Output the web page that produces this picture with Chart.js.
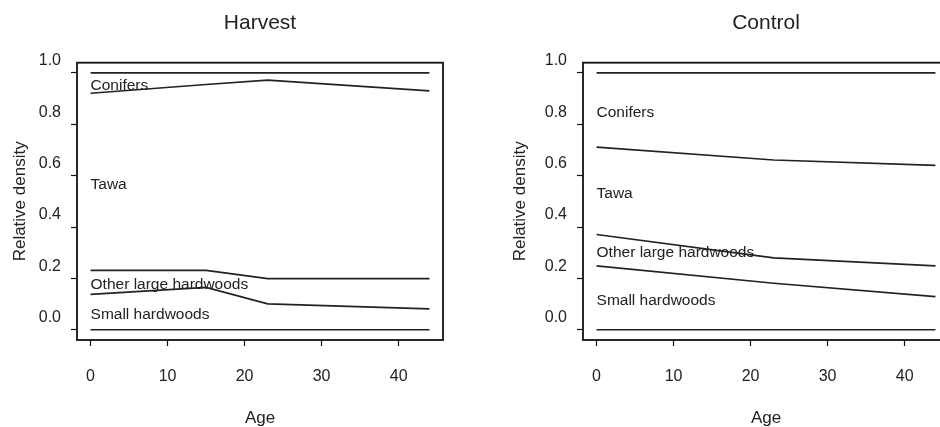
<!DOCTYPE html>
<html>
<head>
<meta charset="utf-8">
<title>Relative density by age</title>
<script src="https://cdn.jsdelivr.net/npm/chart.js@4/dist/chart.umd.min.js"></script>
<style>
  html, body { margin: 0; padding: 0; background: #fff; overflow: hidden; }
  #wrap { position: relative; width: 940px; height: 427px; overflow: hidden; }
  .panel { position: absolute; top: 0; width: 506px; height: 427px; }
</style>
</head>
<body>
<div id="wrap">
  <div class="panel" style="left:0"><canvas id="harvest" width="506" height="427"></canvas></div>
  <div class="panel" style="left:506px"><canvas id="control" width="506" height="427"></canvas></div>
</div>
<script>
// species groups, bottom of the stack first
const groups = ['Small hardwoods', 'Other large hardwoods', 'Tawa', 'Conifers'];

const harvestAges = [0, 15, 23, 44];
const harvestSmall = [0.138, 0.165, 0.101, 0.081];
const harvestOther = [0.093, 0.066, 0.098, 0.118];
const harvestTawa = [0.690, 0.724, 0.773, 0.731];
const harvestConifers = [0.079, 0.045, 0.028, 0.070];

const controlAges = [0, 23, 44];
const controlSmall = [0.249, 0.181, 0.129];
const controlOther = [0.122, 0.099, 0.120];
const controlTawa = [0.340, 0.381, 0.391];
const controlConifers = [0.289, 0.339, 0.360];

const xTicks = [0, 10, 20, 30, 40];
const yTicks = [0, 0.2, 0.4, 0.6, 0.8, 1.0];

const FONT = '"Liberation Sans", Arial, Helvetica, sans-serif';
const INK = '#222';

// running sums: 0, small, small+other, ... , total
function boundaries(series) {
    const out = [series[0].map(() => 0)];
    series.forEach(s => {
        const prev = out[out.length - 1];
        out.push(s.map((v, i) => prev[i] + v));
    });
    return out;
}

function framePlugin(ages, bounds) {
    return {
        id: 'frameAndLabels',
        afterDatasetsDraw(chart) {
            const { ctx, chartArea, scales: { x, y } } = chart;
            ctx.save();
            ctx.strokeStyle = '#111';
            ctx.lineWidth = 1.8;
            ctx.strokeRect(chartArea.left, chartArea.top, chartArea.right - chartArea.left, chartArea.bottom - chartArea.top);

            ctx.font = '15.5px ' + FONT;
            ctx.fillStyle = INK;
            ctx.textAlign = 'left';
            ctx.textBaseline = 'middle';
            groups.forEach((name, i) => {
                const mid = (bounds[i][0] + bounds[i + 1][0]) / 2;
                ctx.fillText(name, x.getPixelForValue(ages[0]), y.getPixelForValue(mid) + 2.5);
            });
            ctx.restore();
        }
    };
}

function makePanel(canvasId, title, ages, series, yTitlePad) {
    const bounds = boundaries(series);
    new Chart(document.getElementById(canvasId), {
        type: 'line',
        data: {
            datasets: bounds.map(b => ({
                data: ages.map((a, i) => ({ x: a, y: b[i] })),
                borderColor: INK,
                borderWidth: 1.7,
                pointRadius: 0,
                fill: false,
                tension: 0
            }))
        },
        options: {
            responsive: false,
            animation: false,
            events: [],
            layout: { padding: { left: 0, right: 63, top: 0, bottom: 0 } },
            plugins: {
                legend: { display: false },
                tooltip: { enabled: false },
                title: {
                    display: true,
                    text: title,
                    fullSize: false,
                    color: INK,
                    font: { family: FONT, size: 21, weight: 'normal' },
                    padding: { top: 10.4, bottom: 27.1 }
                }
            },
            scales: {
                x: {
                    type: 'linear',
                    min: -1.76,
                    max: 45.76,
                    afterBuildTicks: scale => { scale.ticks = xTicks.map(v => ({ value: v })); },
                    afterFit: scale => { scale.height = 87; scale.paddingLeft = 0; scale.paddingRight = 0; },
                    border: { display: false },
                    grid: { display: true, drawOnChartArea: false, drawTicks: true, tickLength: 6, tickColor: '#111', tickWidth: 1.2 },
                    ticks: { color: INK, font: { family: FONT, size: 16 }, padding: 21, maxRotation: 0, autoSkip: false },
                    title: { display: true, text: 'Age', color: INK, font: { family: FONT, size: 17 }, padding: { top: 0, bottom: -2 } }
                },
                y: {
                    type: 'linear',
                    min: -0.04,
                    max: 1.04,
                    afterBuildTicks: scale => { scale.ticks = yTicks.map(v => ({ value: v })); },
                    afterFit: scale => { scale.width = 77; scale.paddingTop = 0; scale.paddingBottom = 0; },
                    border: { display: false },
                    grid: { display: true, drawOnChartArea: false, drawTicks: true, tickLength: 6, tickColor: '#111', tickWidth: 1.2 },
                    ticks: {
                        color: INK,
                        font: { family: FONT, size: 16 },
                        padding: 10,
                        labelOffset: -12,
                        autoSkip: false,
                        callback: v => v.toFixed(1)
                    },
                    title: { display: true, text: 'Relative density', color: INK, font: { family: FONT, size: 17 }, padding: { top: yTitlePad, bottom: 0 } }
                }
            }
        },
        plugins: [framePlugin(ages, bounds)]
    });
}

makePanel('harvest', 'Harvest', harvestAges, [harvestSmall, harvestOther, harvestTawa, harvestConifers], 10);
makePanel('control', 'Control', controlAges, [controlSmall, controlOther, controlTawa, controlConifers], 4);
</script>
</body>
</html>
